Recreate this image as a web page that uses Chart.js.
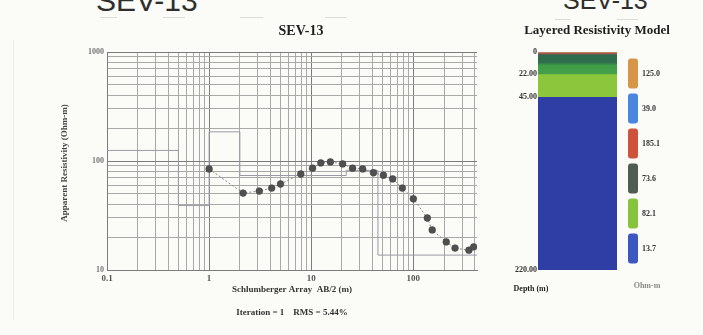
<!DOCTYPE html>
<html>
<head>
<meta charset="utf-8">
<title>SEV-13</title>
<script src="https://cdn.jsdelivr.net/npm/chart.js@4/dist/chart.umd.min.js"></script>
<style>
  html, body { margin: 0; padding: 0; background: #fbfbf7; }
  #wrap { position: relative; width: 703px; height: 335px; overflow: hidden; }
  #sounding { position: absolute; left: 0; top: 0; }
  #layers { position: absolute; left: 490px; top: 0; }
  .head { position: absolute; font-family: "Liberation Sans", Arial, sans-serif; color: #2e2e2e; line-height: 1; white-space: nowrap; }
</style>
</head>
<body>
<div id="wrap">
  <div class="head" style="left:96px; top:-14px; font-size:30px;">SEV-13</div>
  <div class="head" style="left:563px; top:-12px; font-size:25px;">SEV-13</div>
  <canvas id="sounding" width="490" height="335"></canvas>
  <canvas id="layers" width="213" height="335"></canvas>
</div>
<script>
// ---- Field sounding SEV-13 (Schlumberger) ----
const abHalf = [1.0, 2.15, 3.1, 4.1, 5.0, 7.9, 10.3, 12.4, 15.4, 20.3, 25.4, 31.9,
                40.7, 50.9, 62.7, 78, 100, 137, 153, 210, 256, 350, 390];
const rhoApparent = [84.5, 50.8, 53, 56.5, 61.5, 76, 86, 96, 98, 94, 86, 84.5,
                     78, 74, 68.5, 56.5, 45, 30, 23.3, 18.1, 15.9, 15.2, 16.3];

// ---- Inverted layered model ----
const layerResistivity = [125.0, 39.0, 185.1, 73.6, 82.1, 13.7];
const layerTop = [0, 0.5, 1.0, 2.0, 22.0, 45.0];
const modelBase = 220;

// ---- Tick labels ----
const spacingLabels = [0.1, 1, 10, 100];
const resistivityLabels = [10, 100, 1000];
const depthLabels = [0, 22, 45, 220];

// ---- Text ----
const soundingTitle = 'SEV-13';
const spacingTitle = 'Schlumberger Array  AB/2 (m)';
const resistivityTitle = 'Apparent Resistivity (Ohm-m)';
const fitSummary = 'Iteration = 1    RMS = 5.44%';
const modelTitle = 'Layered Resistivity Model';
const depthTitle = 'Depth (m)';
const unitTitle = 'Ohm-m';

// ---- Styles ----
const swatchColors = ['#d69548', '#4a86e0', '#cf533a', '#505d53', '#86c43e', '#3d57c0'];
const columnColors = ['#c98048', '#7a6aa0', '#b8503c', null, '#8cc63c', '#2e3ea5'];
const serif = '"Liberation Serif", "DejaVu Serif", serif';

const xMin = 0.1, xMax = 420, yMin = 10, yMax = 1000;

function logGrid(min, max) {
  const out = [];
  for (let e = Math.floor(Math.log10(min)); e <= Math.ceil(Math.log10(max)); e++) {
    for (let m = 1; m < 10; m++) {
      const v = +(m * Math.pow(10, e)).toPrecision(6);
      if (v >= min - 1e-9 && v <= max + 1e-9) out.push(v);
    }
  }
  return out;
}
const isDecade = v => Math.abs(Math.log10(v) - Math.round(Math.log10(v))) < 1e-9;
const sameValue = (list, v) => list.some(a => Math.abs(a - v) < 1e-9 * Math.max(1, a));

// free-standing text and faint rules drawn on a canvas
function textPlugin(id, items, rules) {
  return {
    id,
    beforeDraw(chart) {
      const ctx = chart.ctx;
      ctx.save();
      (rules || []).forEach(r => {
        ctx.strokeStyle = r.color; ctx.lineWidth = 1;
        ctx.beginPath(); ctx.moveTo(r.x1, r.y1); ctx.lineTo(r.x2, r.y2); ctx.stroke();
      });
      ctx.restore();
    },
    afterDraw(chart) {
      const ctx = chart.ctx;
      items.forEach(it => {
        ctx.save();
        ctx.font = it.font;
        ctx.fillStyle = it.color || '#222';
        ctx.textAlign = 'center';
        ctx.textBaseline = 'middle';
        ctx.translate(it.x, it.y);
        if (it.rotate) ctx.rotate(it.rotate);
        ctx.fillText(it.t, 0, 0);
        ctx.restore();
      });
    }
  };
}

// model drawn as a stepped profile versus depth: each layer value holds until the next top
const modelPoints = layerTop.map((d, i) => ({ x: Math.max(d, xMin), y: layerResistivity[i] }));
modelPoints.push({ x: xMax, y: layerResistivity[layerResistivity.length - 1] });

new Chart(document.getElementById('sounding'), {
  type: 'scatter',
  data: {
    datasets: [
      {
        label: 'Observed',
        data: abHalf.map((x, i) => ({ x, y: rhoApparent[i] })),
        showLine: true,
        borderColor: '#8a8a8a',
        borderWidth: 1,
        borderDash: [2, 2],
        pointRadius: 3.4,
        pointBackgroundColor: '#505050',
        pointBorderColor: '#3c3c3c',
        pointBorderWidth: 0.5
      },
      {
        label: 'Model',
        data: modelPoints,
        showLine: true,
        stepped: 'before',
        borderColor: '#9a9aa6',
        borderWidth: 1,
        pointRadius: 0
      }
    ]
  },
  options: {
    responsive: false,
    animation: false,
    layout: { padding: { top: 52, right: 13, left: 0, bottom: 0 } },
    scales: {
      x: {
        type: 'logarithmic',
        min: xMin, max: xMax,
        afterBuildTicks: s => { s.ticks = logGrid(xMin, xMax).map(v => ({ value: v })); },
        afterFit: s => { s.height = 65; },
        ticks: {
          autoSkip: false, maxRotation: 0, padding: 3,
          font: { family: serif, size: 9, weight: 'bold' }, color: '#555',
          callback: v => sameValue(spacingLabels, v) ? String(v) : ''
        },
        grid: { drawTicks: false, lineWidth: 1, color: c => (c.tick && isDecade(c.tick.value)) ? '#7c7c7c' : '#a9a9a9' },
        border: { color: '#7c7c7c' }
      },
      y: {
        type: 'logarithmic',
        min: yMin, max: yMax,
        afterBuildTicks: s => { s.ticks = logGrid(yMin, yMax).map(v => ({ value: v })); },
        afterFit: s => { s.width = 107; },
        ticks: {
          autoSkip: false, padding: 3,
          font: { family: serif, size: 8, weight: 'bold' }, color: '#777',
          callback: v => sameValue(resistivityLabels, v) ? String(v) : ''
        },
        grid: { drawTicks: false, lineWidth: 1, color: c => (c.tick && isDecade(c.tick.value)) ? '#7c7c7c' : '#a9a9a9' },
        border: { color: '#7c7c7c' }
      }
    },
    plugins: { legend: { display: false }, tooltip: { enabled: false }, title: { display: false } }
  },
  plugins: [textPlugin('soundingText', [
    { t: soundingTitle, x: 301, y: 31, font: 'bold 14px ' + serif, color: '#1e1e1e' },
    { t: spacingTitle, x: 292, y: 290, font: 'bold 9px ' + serif, color: '#333' },
    { t: fitSummary, x: 292, y: 313, font: 'bold 9px ' + serif, color: '#333' },
    { t: resistivityTitle, x: 65, y: 163, font: 'bold 9px ' + serif, color: '#444', rotate: -Math.PI / 2 }
  ], [
    { x1: 100, y1: 17.5, x2: 117, y2: 17.5, color: '#dcdcd6' },
    { x1: 163, y1: 17.5, x2: 185, y2: 17.5, color: '#dcdcd6' },
    { x1: 240, y1: 17.5, x2: 263, y2: 17.5, color: '#dcdcd6' },
    { x1: 325, y1: 17.5, x2: 347, y2: 17.5, color: '#dcdcd6' },
    { x1: 13.5, y1: 40, x2: 13.5, y2: 320, color: '#ebebe5' }
  ])]
});

// ---- Layer column ----
const nLayers = layerResistivity.length;
function layerFill(i) {
  if (columnColors[i]) return columnColors[i];
  return ctx => {
    const chart = ctx.chart;
    if (!chart.chartArea) return '#2f6a4c';
    const y = chart.scales.y;
    const y0 = y.getPixelForValue(layerTop[i]);
    const y1 = y.getPixelForValue(layerTop[i + 1]);
    const g = chart.ctx.createLinearGradient(0, y0, 0, y1);
    g.addColorStop(0, '#2f6a4c');
    g.addColorStop(0.42, '#2f6e4c');
    g.addColorStop(0.58, '#3f9c47');
    g.addColorStop(1, '#45a048');
    return g;
  };
}

new Chart(document.getElementById('layers'), {
  type: 'bar',
  data: {
    labels: [''],
    datasets: layerResistivity.map((r, i) => ({
      label: r.toFixed(1),
      data: [[layerTop[i], i < nLayers - 1 ? layerTop[i + 1] : modelBase]],
      backgroundColor: layerFill(i),
      borderWidth: 0,
      borderSkipped: false,
      grouped: false,
      barPercentage: 1,
      categoryPercentage: 1
    }))
  },
  options: {
    responsive: false,
    animation: false,
    layout: { padding: { top: 52, bottom: 65, left: 0, right: 33 } },
    scales: {
      x: { display: false },
      y: {
        reverse: true, min: 0, max: modelBase,
        afterBuildTicks: s => { s.ticks = depthLabels.map(v => ({ value: v })); },
        afterFit: s => { s.width = 48; },
        grid: { display: false, drawTicks: false },
        border: { display: false },
        ticks: {
          autoSkip: false, padding: 1,
          font: { family: serif, size: 8, weight: 'bold' }, color: '#333',
          callback: v => v === 0 ? '0' : Number(v).toFixed(2)
        }
      },
      gap: {
        type: 'linear', position: 'right', display: true,
        afterFit: s => { s.width = 6; },
        grid: { display: false, drawTicks: false },
        ticks: { display: false },
        border: { display: false }
      }
    },
    plugins: {
      tooltip: { enabled: false },
      legend: {
        position: 'right', align: 'center', maxWidth: 60,
        labels: {
          boxWidth: 10, boxHeight: 30, padding: 5,
          useBorderRadius: true, borderRadius: 3,
          font: { family: serif, size: 8, weight: 'bold' }, color: '#333',
          generateLabels: () => layerResistivity.map((r, i) => ({
            text: r.toFixed(1), fillStyle: swatchColors[i], strokeStyle: swatchColors[i],
            lineWidth: 0, hidden: false, datasetIndex: i, borderRadius: 3, fontColor: '#333'
          }))
        }
      }
    }
  },
  plugins: [textPlugin('layersText', [
    { t: modelTitle, x: 107, y: 31, font: 'bold 13px ' + serif, color: '#1e1e1e' },
    { t: depthTitle, x: 41, y: 289, font: 'bold 8px ' + serif, color: '#222' },
    { t: unitTitle, x: 157, y: 286, font: 'bold 8px ' + serif, color: '#8a8a8a' }
  ], [
    { x1: 65, y1: 19.5, x2: 80, y2: 19.5, color: '#dcdcd6' },
    { x1: 127, y1: 19.5, x2: 148, y2: 19.5, color: '#dcdcd6' }
  ])]
});
</script>
</body>
</html>
